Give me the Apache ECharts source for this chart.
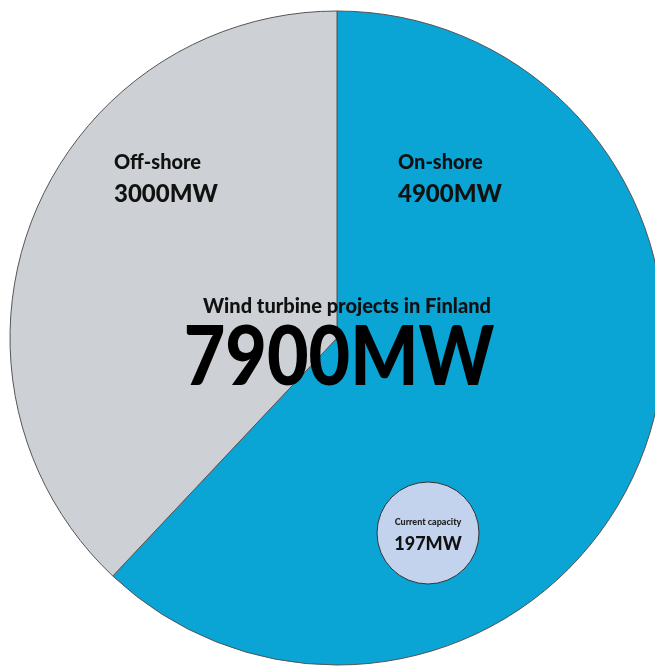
<!DOCTYPE html>
<html>
<head>
<meta charset="utf-8">
<script src="https://cdn.jsdelivr.net/npm/echarts@6/dist/echarts.min.js"></script>
<style>
html,body{margin:0;padding:0;background:#fff;}
#c{width:655px;height:666px;}
</style>
</head>
<body>
<div id="c"></div>
<script>
const categories = ['On-shore', 'Off-shore'];
const values = [4900, 3000];
const currentLabel = 'Current capacity';
const currentValue = [197];
const titleText = 'Wind turbine projects in Finland';
const unit = 'MW';

const FONT = 'Lato';
const W = 900;
const total = values.reduce((a, b) => a + b, 0);
const sliceColors = ['#0aa4d5', '#cdd1d5'];
const labelPos = [{x: 398, y: 148}, {x: 114, y: 148}];

const chart = echarts.init(document.getElementById('c'), null, {renderer: 'canvas'});
chart.setOption({
  animation: false,
  title: [
    {text: titleText, left: 342, top: 292, textAlign: 'center',
     textStyle: {fontFamily: FONT, fontWeight: W, fontSize: 20, color: '#111'}}
  ],
  graphic: [
    {type: 'text', x: 339, y: 359, scaleX: 0.875, z: 10, originX: 0, originY: 0,
     style: {text: total + unit, x: 0, y: 0, align: 'center', verticalAlign: 'middle',
             font: W + ' 82px ' + FONT, fill: '#000'}}
  ],
  series: [
    {
      type: 'pie',
      center: [337, 338],
      radius: [0, 327],
      startAngle: 90,
      clockwise: true,
      silent: true,
      z: 1,
      itemStyle: {borderColor: '#555', borderWidth: 1},
      labelLine: {show: false},
      label: {
        show: true,
        position: 'inside',
        formatter: p => '{n|' + p.name + '}\n{v|' + p.value + unit + '}',
        rich: {
          n: {fontFamily: FONT, fontWeight: W, fontSize: 20, color: '#111', lineHeight: 30},
          v: {fontFamily: FONT, fontWeight: W, fontSize: 24, color: '#111', lineHeight: 32}
        }
      },
      labelLayout: p => ({x: labelPos[p.dataIndex].x, y: labelPos[p.dataIndex].y, align: 'left', verticalAlign: 'top'}),
      data: categories.map((c, i) => ({name: c, value: values[i], itemStyle: {color: sliceColors[i]}}))
    },
    {
      type: 'pie',
      center: [428, 533],
      radius: [0, 51],
      silent: true,
      z: 3,
      itemStyle: {color: '#c3d3ee', borderColor: '#333', borderWidth: 1},
      labelLine: {show: false},
      label: {
        show: true,
        position: 'center',
        formatter: p => '{n|' + p.name + '}\n{v|' + p.value + unit + '}',
        rich: {
          n: {fontFamily: FONT, fontWeight: W, fontSize: 9, color: '#222', lineHeight: 22},
          v: {fontFamily: FONT, fontWeight: W, fontSize: 18, color: '#111', lineHeight: 22}
        }
      },
      data: currentValue.map(v => ({name: currentLabel, value: v}))
    }
  ]
});
</script>
</body>
</html>
